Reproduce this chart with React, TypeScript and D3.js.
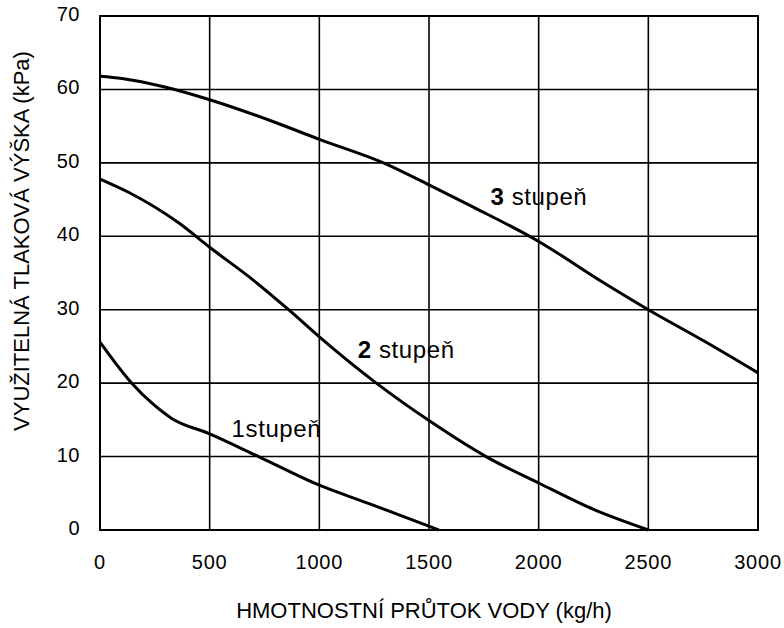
import React from "react";
import * as d3 from "d3";

const xTicks = [0, 500, 1000, 1500, 2000, 2500, 3000];
const yTicks = [0, 10, 20, 30, 40, 50, 60, 70];

const stage1Flow = [0, 145, 236, 327, 500, 723, 1000, 1236, 1545];
const stage1Head = [25.6, 20, 17.3, 15.2, 13.1, 10, 6.1, 3.5, 0];

const stage2Flow = [0, 130, 360, 500, 700, 860, 1000, 1260, 1500, 1760, 2000, 2250, 2500];
const stage2Head = [47.8, 46, 41.8, 38.5, 34, 30, 26.3, 20, 14.9, 10, 6.4, 2.8, 0];

const stage3Flow = [0, 100, 300, 500, 800, 1000, 1300, 1500, 1700, 2000, 2300, 2500, 2750, 3000];
const stage3Head = [61.8, 61.5, 60.3, 58.6, 55.5, 53.2, 49.9, 47, 44, 39.3, 33.6, 30, 25.8, 21.4];

const seriesNames = ["1", "2", "3"];
const labelFlow = [600, 1175, 1780];
const labelHead = [12.6, 23.4, 44.3];
const labelSpace = ["", " ", " "];
const labelBold = ["normal", "bold", "bold"];

const xTitle = "HMOTNOSTNÍ PRŮTOK VODY (kg/h)";
const yTitle = "VYUŽITELNÁ TLAKOVÁ VÝŠKA (kPa)";

const FONT = "'Liberation Sans', Arial, Helvetica, sans-serif";

export default function App() {
  const W = 784, H = 628;
  const left = 100, right = 758, top = 16, bottom = 530;
  const x = d3.scaleLinear().domain([0, 3000]).range([left, right]);
  const y = d3.scaleLinear().domain([0, 70]).range([bottom, top]);
  const line = d3
    .line<[number, number]>()
    .x((d) => x(d[0]))
    .y((d) => y(d[1]))
    .curve(d3.curveMonotoneX);

  const series = [
    d3.zip(stage1Flow, stage1Head) as [number, number][],
    d3.zip(stage2Flow, stage2Head) as [number, number][],
    d3.zip(stage3Flow, stage3Head) as [number, number][],
  ];

  return (
    <svg width={W} height={H} style={{ display: "block", position: "absolute", left: 0, top: 0, background: "#fff" }}>
      <rect x={0} y={0} width={W} height={H} fill="#fff" />
      {/* grid */}
      {xTicks.slice(1, -1).map((t) => (
        <line key={"gx" + t} x1={x(t)} x2={x(t)} y1={top} y2={bottom} stroke="#000" strokeWidth={1.6} />
      ))}
      {yTicks.slice(1, -1).map((t) => (
        <line key={"gy" + t} x1={left} x2={right} y1={y(t)} y2={y(t)} stroke="#000" strokeWidth={1.6} />
      ))}
      <rect x={left} y={top} width={right - left} height={bottom - top} fill="none" stroke="#000" strokeWidth={2} />
      {/* curves */}
      {series.map((s, i) => (
        <path key={"s" + i} d={line(s) || ""} fill="none" stroke="#000" strokeWidth={3} strokeLinejoin="round" />
      ))}
      {/* tick labels */}
      {xTicks.map((t) => (
        <text key={"xt" + t} x={x(t)} y={569} textAnchor="middle" fontFamily={FONT} fontSize={20} letterSpacing={0.8} fill="#000">
          {t}
        </text>
      ))}
      {yTicks.map((t) => (
        <text key={"yt" + t} x={80} y={y(t) - 2} dy="0.35em" textAnchor="end" fontFamily={FONT} fontSize={20} letterSpacing={0.5} fill="#000">
          {t}
        </text>
      ))}
      {/* axis titles */}
      <text x={424} y={618} textAnchor="middle" fontFamily={FONT} fontSize={22} fill="#000">
        {xTitle}
      </text>
      <text transform={`translate(29,241) rotate(-90)`} textAnchor="middle" fontFamily={FONT} fontSize={22} fill="#000">
        {yTitle}
      </text>
      {/* curve labels */}
      {seriesNames.map((n, i) => (
        <text key={"l" + i} x={x(labelFlow[i])} y={y(labelHead[i])} fontFamily={FONT} fontSize={24} letterSpacing={0.6} fill="#000">
          <tspan fontWeight={labelBold[i]}>{n}</tspan>
          {labelSpace[i] + "stupeň"}
        </text>
      ))}
    </svg>
  );
}
